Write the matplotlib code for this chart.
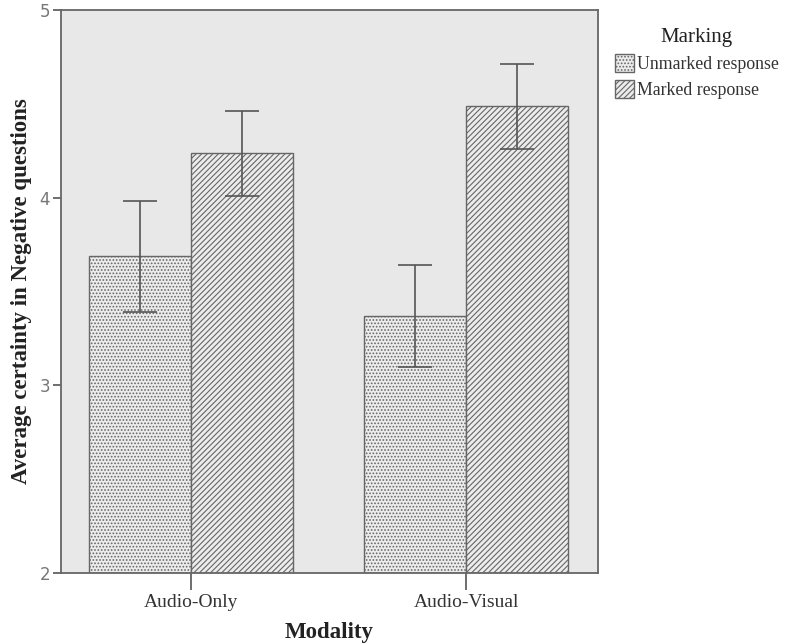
import matplotlib
matplotlib.use("Agg")
import matplotlib.pyplot as plt
import numpy as np
from matplotlib.patches import Patch

plt.rcParams['hatch.linewidth'] = 0.8
plt.rcParams['hatch.color'] = '#555555'

modalities = ["Audio-Only", "Audio-Visual"]
series_names = ["Unmarked response", "Marked response"]
unmarked_mean = [3.69, 3.37]
unmarked_lo = [3.39, 3.10]
unmarked_hi = [3.98, 3.64]
marked_mean = [4.24, 4.49]
marked_lo = [4.01, 4.26]
marked_hi = [4.46, 4.71]
y_ticks = [2, 3, 4, 5]

fig = plt.figure(figsize=(7.89, 6.44), dpi=100)
ax = fig.add_axes([0.0773, 0.1102, 0.6807, 0.8743])
ax.set_facecolor('#e8e8e8')

x = np.arange(len(modalities))
w = 0.37
edge = '#666666'

for offs, means, lo, hi, hatch in [
    (-w / 2, unmarked_mean, unmarked_lo, unmarked_hi, '.....'),
    (w / 2, marked_mean, marked_lo, marked_hi, '//////'),
]:
    means = np.array(means)
    ax.bar(x + offs, means - 2, bottom=2, width=w, facecolor='#ececec',
           edgecolor=edge, hatch=hatch, linewidth=1.0, zorder=2)
    err = [means - np.array(lo), np.array(hi) - means]
    ax.errorbar(x + offs, means, yerr=err, fmt='none', ecolor='#555555',
                elinewidth=1.2, capsize=12, capthick=1.2, zorder=3)

ax.set_xlim(-0.473, 1.48)
ax.set_ylim(2, 5)
ax.set_yticks(y_ticks)
ax.set_yticklabels([str(t) for t in y_ticks], fontfamily='DejaVu Sans',
                   fontsize=12, color='#777777')
ax.set_xticks(x)
ax.set_xticklabels(modalities, fontfamily='Liberation Serif', fontsize=14,
                   color='#333333')
ax.tick_params(axis='x', length=12, width=1.2, color='#555555', pad=3)
ax.tick_params(axis='y', length=6, width=1.2, color='#555555', pad=2)
for s in ax.spines.values():
    s.set_color('#666666')
    s.set_linewidth(1.3)

ax.set_xlabel("Modality", fontfamily='Liberation Serif', fontweight='bold',
              fontsize=16.5, color='#222222', labelpad=8)
ax.set_ylabel("Average certainty in Negative questions", fontfamily='Liberation Serif',
              fontweight='bold', fontsize=16.5, color='#222222', labelpad=5)

handles = [Patch(facecolor='#ececec', edgecolor=edge, hatch='.....', label=series_names[0]),
           Patch(facecolor='#ececec', edgecolor=edge, hatch='//////', label=series_names[1])]
leg = fig.legend(handles=handles, title="Marking", loc='upper left',
                 bbox_to_anchor=(0.779, 0.957), frameon=False,
                 prop={'family': 'Liberation Serif', 'size': 12.8},
                 handlelength=1.1, handleheight=1.2, handletextpad=0.15,
                 labelspacing=0.4, borderaxespad=0, borderpad=0)
leg.get_title().set_fontfamily('Liberation Serif')
leg.get_title().set_fontsize(15)
for t in leg.get_texts():
    t.set_color('#333333')
leg.get_title().set_color('#222222')

fig.savefig("out.png", dpi=100, facecolor='white')
